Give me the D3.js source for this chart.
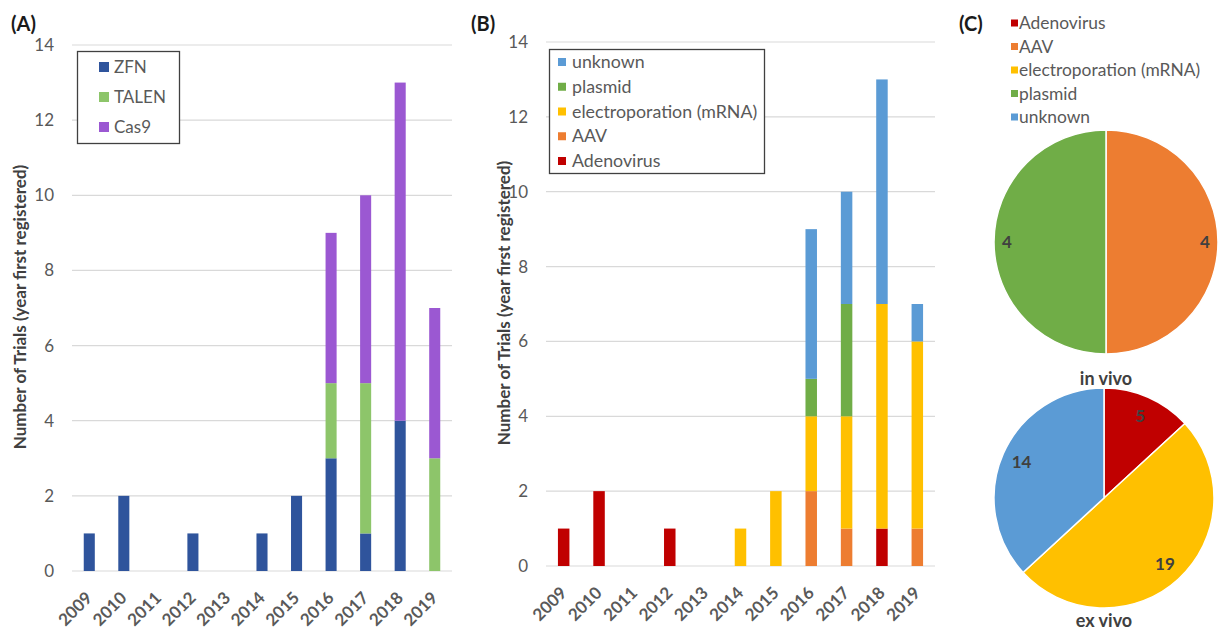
<!DOCTYPE html>
<html>
<head>
<meta charset="utf-8">
<script src="https://cdn.jsdelivr.net/npm/d3@7"></script>
<style>
  body { margin: 0; background: #fff; }
  svg { display: block; font-family: Lato, "Open Sans", sans-serif; }
</style>
</head>
<body>
<svg id="chart" width="1223" height="631"></svg>
<script>
// data
const years = ['2009', '2010', '2011', '2012', '2013', '2014', '2015', '2016', '2017', '2018', '2019'];
const yTicks = [0, 2, 4, 6, 8, 10, 12, 14];

// (A) editing platform
const zfn   = [1, 2, 0, 1, 0, 1, 2, 3, 1, 4, 0];
const talen = [0, 0, 0, 0, 0, 0, 0, 2, 4, 0, 3];
const cas9  = [0, 0, 0, 0, 0, 0, 0, 4, 5, 9, 4];

// (B) delivery method
const adenovirus      = [1, 2, 0, 1, 0, 0, 0, 0, 0, 1, 0];
const aav             = [0, 0, 0, 0, 0, 0, 0, 2, 1, 0, 1];
const electroporation = [0, 0, 0, 0, 0, 1, 2, 2, 3, 6, 5];
const plasmid         = [0, 0, 0, 0, 0, 0, 0, 1, 3, 0, 0];
const unknown         = [0, 0, 0, 0, 0, 0, 0, 4, 3, 6, 1];

// (C) delivery totals
const deliveryNames = ['Adenovirus', 'AAV', 'electroporation (mRNA)', 'plasmid', 'unknown'];
const inVivo = [0, 4, 0, 4, 0];
const exVivo = [5, 0, 19, 0, 14];

const platformColors = { ZFN: '#2f549c', TALEN: '#8dc56a', Cas9: '#9b58d2' };
const deliveryColors = {
  'Adenovirus': '#c00000',
  'AAV': '#ed7d31',
  'electroporation (mRNA)': '#ffc000',
  'plasmid': '#70ad47',
  'unknown': '#5b9bd5'
};

const svg = d3.select('#chart');
const tickColor = '#595959';
const titleColor = '#404040';

function barPanel(opts) {
  const { rows, keys, colors, xRange, yRange, titleX } = opts;
  const x = d3.scaleBand().domain(years).range(xRange)
    .paddingInner(opts.pad).paddingOuter(opts.pad / 2);
  const y = d3.scaleLinear().domain([0, 14]).range(yRange);
  const g = svg.append('g');

  // gridlines
  g.selectAll('line.grid').data(yTicks).enter().append('line')
    .attr('x1', xRange[0]).attr('x2', xRange[1])
    .attr('y1', d => y(d)).attr('y2', d => y(d))
    .attr('stroke', '#d9d9d9').attr('stroke-width', 1.2);

  // y tick labels
  g.selectAll('text.ytick').data(yTicks).enter().append('text')
    .attr('x', xRange[0] - 18).attr('y', d => y(d))
    .attr('dy', '0.35em').attr('text-anchor', 'end')
    .attr('font-size', 17).attr('fill', tickColor)
    .text(d => d);

  // stacked bars
  const series = d3.stack().keys(keys)(rows);
  g.selectAll('g.series').data(series).enter().append('g')
    .attr('fill', d => colors[d.key])
    .selectAll('rect').data(d => d).enter().append('rect')
    .attr('x', d => x(d.data.year))
    .attr('width', x.bandwidth())
    .attr('y', d => y(d[1]))
    .attr('height', d => y(d[0]) - y(d[1]));

  // x labels
  g.selectAll('text.xtick').data(years).enter().append('text')
    .attr('transform', d => `translate(${x(d) + x.bandwidth() / 2 + 4},${yRange[0] + 28}) rotate(-45)`)
    .attr('text-anchor', 'end')
    .attr('font-size', 17).attr('font-weight', 'bold').attr('fill', tickColor)
    .text(d => d);

  // y axis title
  g.append('text')
    .attr('transform', `translate(${titleX},${(yRange[0] + yRange[1]) / 2 - 1}) rotate(-90)`)
    .attr('text-anchor', 'middle').attr('dy', '0.35em')
    .attr('font-size', 17).attr('font-weight', 'bold').attr('fill', titleColor)
    .text('Number of Trials (year first registered)');
  return g;
}

// ---------- (A)
const rowsA = years.map((yr, i) => ({ year: yr, ZFN: zfn[i], TALEN: talen[i], Cas9: cas9[i] }));
barPanel({
  rows: rowsA, keys: ['ZFN', 'TALEN', 'Cas9'], colors: platformColors,
  xRange: [72, 452], yRange: [571, 45], pad: 0.68, titleX: 20
});

const legA = svg.append('g');
legA.append('rect').attr('x', 77.5).attr('y', 51.5).attr('width', 102).attr('height', 92)
  .attr('fill', '#fff').attr('stroke', '#404040').attr('stroke-width', 1.3);
['ZFN', 'TALEN', 'Cas9'].forEach((k, i) => {
  const cy = 67 + i * 30;
  legA.append('rect').attr('x', 99).attr('y', cy - 5).attr('width', 10).attr('height', 10)
    .attr('fill', platformColors[k]);
  legA.append('text').attr('x', 114).attr('y', cy).attr('dy', '0.35em')
    .attr('font-size', 17).attr('fill', tickColor).text(k);
});

// ---------- (B)
const rowsB = years.map((yr, i) => ({
  year: yr,
  'Adenovirus': adenovirus[i],
  'AAV': aav[i],
  'electroporation (mRNA)': electroporation[i],
  'plasmid': plasmid[i],
  'unknown': unknown[i]
}));
barPanel({
  rows: rowsB, keys: deliveryNames, colors: deliveryColors,
  xRange: [546, 935], yRange: [566, 42], pad: 0.675, titleX: 504
});

const legB = svg.append('g');
legB.append('rect').attr('x', 549.5).attr('y', 49.5).attr('width', 215).attr('height', 124)
  .attr('fill', '#fff').attr('stroke', '#404040').attr('stroke-width', 1.3);
deliveryNames.slice().reverse().forEach((k, i) => {
  const cy = 62 + i * 24.75;
  legB.append('rect').attr('x', 558).attr('y', cy - 4).attr('width', 8).attr('height', 8)
    .attr('fill', deliveryColors[k]);
  legB.append('text').attr('x', 572).attr('y', cy).attr('dy', '0.35em')
    .attr('font-size', 17.8).attr('fill', tickColor).text(k);
});

// ---------- (C)
const legC = svg.append('g');
deliveryNames.forEach((k, i) => {
  const cy = 23 + i * 23.5;
  legC.append('rect').attr('x', 1011).attr('y', cy - 3.5).attr('width', 7).attr('height', 7)
    .attr('fill', deliveryColors[k]);
  legC.append('text').attr('x', 1019).attr('y', cy).attr('dy', '0.35em')
    .attr('font-size', 17.4).attr('fill', tickColor).text(k);
});

function piePanel(values, cx, cy, r, labelR, title, titleY) {
  const data = deliveryNames.map((name, i) => ({ name, value: values[i] })).filter(d => d.value > 0);
  const arcs = d3.pie().sort(null).value(d => d.value)(data);
  const arc = d3.arc().innerRadius(0).outerRadius(r);
  const labelArc = d3.arc().innerRadius(labelR).outerRadius(labelR);
  const g = svg.append('g').attr('transform', `translate(${cx},${cy})`);
  g.selectAll('path').data(arcs).enter().append('path')
    .attr('d', arc).attr('fill', d => deliveryColors[d.data.name])
    .attr('stroke', '#fff').attr('stroke-width', 1.5);
  g.selectAll('text').data(arcs).enter().append('text')
    .attr('transform', d => `translate(${labelArc.centroid(d)})`)
    .attr('text-anchor', 'middle').attr('dy', '0.35em')
    .attr('font-size', 17).attr('font-weight', 'bold').attr('fill', titleColor)
    .text(d => d.data.value);
  svg.append('text').attr('x', cx).attr('y', titleY).attr('dy', '0.35em')
    .attr('text-anchor', 'middle')
    .attr('font-size', 18).attr('font-weight', 'bold').attr('fill', titleColor)
    .text(title);
}

piePanel(inVivo, 1106, 242, 112, 99, 'in vivo', 379);
piePanel(exVivo, 1104, 498, 110, 90, 'ex vivo', 621);

// panel letters
[['(A)', 11], ['(B)', 471], ['(C)', 959]].forEach(([t, x]) => {
  svg.append('text').attr('x', x).attr('y', 31)
    .attr('font-size', 20).attr('font-weight', 'bold').attr('fill', '#1a1a1a')
    .text(t);
});
</script>
</body>
</html>
